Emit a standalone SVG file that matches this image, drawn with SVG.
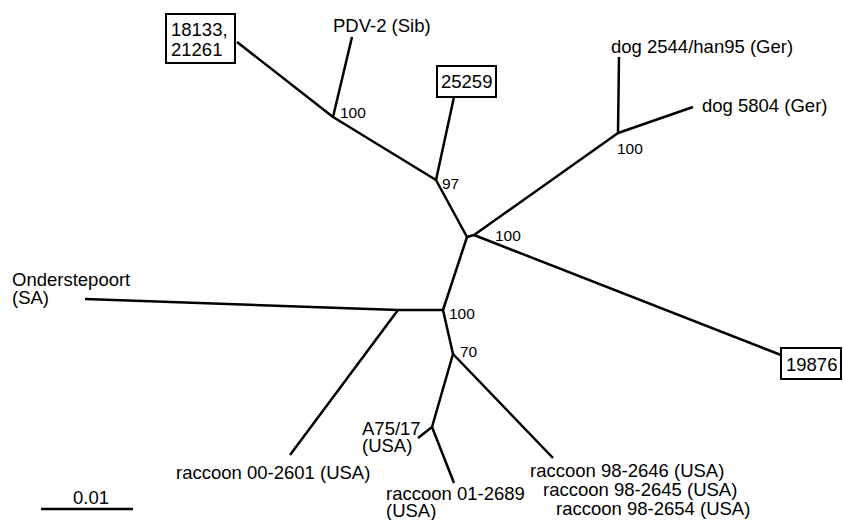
<svg xmlns="http://www.w3.org/2000/svg" width="843" height="520" viewBox="0 0 843 520">
<style>
.e{stroke:#000;stroke-width:2.5;fill:none;stroke-linecap:butt;stroke-linejoin:round}
.b{stroke:#000;stroke-width:2;fill:#fff}
text{font-family:"Liberation Sans",Arial,Helvetica,sans-serif;font-size:18.5px;fill:#000}
.s{font-size:15.5px}
</style>
<rect width="843" height="520" fill="#fff"/>
<g id="connectors">
<path class="e" d="M237,42 L333,117 L436,180 L467,237 L474,235 L618,133"/>
<path class="e" d="M352,37 L333,117"/>
<path class="e" d="M454,97 L436,180"/>
<path class="e" d="M474,235 L781,355"/>
<path class="e" d="M467,237 L443,310 L453,354 L432,427 L418,438"/>
<path class="e" d="M432,427 L454,483"/>
<path class="e" d="M453,354 L553,458"/>
<path class="e" d="M443,310 L398,310 L85,299"/>
<path class="e" d="M398,310 L290,455"/>
<path class="e" d="M619,57 L618,133 L693,107"/>
</g>
<g id="n18133"><rect class="b" x="166" y="14" width="69" height="49"/><text x="171" y="36">18133,</text><text x="171" y="56">21261</text></g>
<g id="nPDV"><text x="333" y="32">PDV-2 (Sib)</text></g>
<g id="n25259"><rect class="b" x="437" y="66" width="59" height="31"/><text x="441" y="88">25259</text></g>
<g id="ndog2544"><text x="611" y="53">dog 2544/han95 (Ger)</text></g>
<g id="ndog5804"><text x="702" y="112">dog 5804 (Ger)</text></g>
<g id="n19876"><rect class="b" x="781" y="348" width="60" height="31"/><text x="786" y="371">19876</text></g>
<g id="nOnder"><text x="12" y="286">Onderstepoort</text><text x="12" y="304">(SA)</text></g>
<g id="nr002601"><text x="176" y="479">raccoon 00-2601 (USA)</text></g>
<g id="nA75"><text x="362" y="435">A75/17</text><text x="362" y="452">(USA)</text></g>
<g id="nr012689"><text x="386" y="500">raccoon 01-2689</text><text x="386" y="517">(USA)</text></g>
<g id="nr98"><text x="530" y="477">raccoon 98-2646 (USA)</text><text x="543" y="496">raccoon 98-2645 (USA)</text><text x="556" y="515">raccoon 98-2654 (USA)</text></g>
<g id="bootstrap">
<text class="s" x="340" y="118">100</text>
<text class="s" x="442" y="189">97</text>
<text class="s" x="617" y="154">100</text>
<text class="s" x="495" y="241">100</text>
<text class="s" x="449" y="319">100</text>
<text class="s" x="460" y="357">70</text>
</g>
<g id="scale"><path class="e" d="M41,509 L133,509"/><text x="73" y="504">0.01</text></g>
</svg>
